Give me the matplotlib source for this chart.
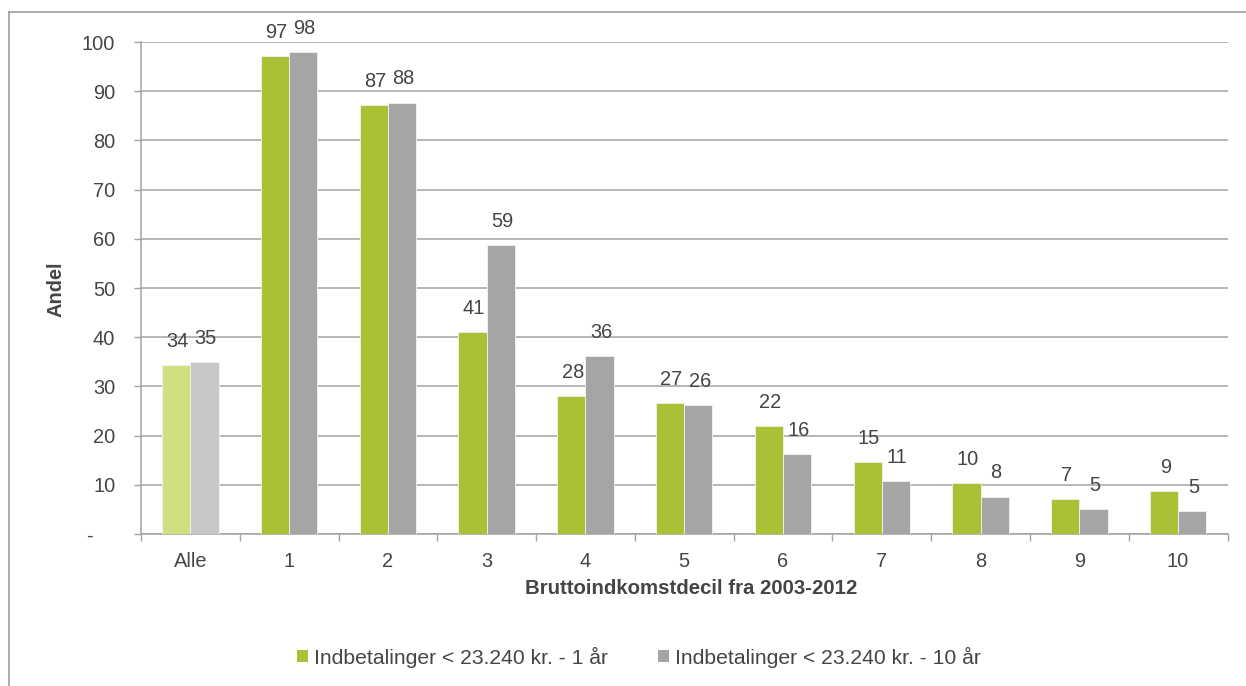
import matplotlib
matplotlib.use("Agg")
import matplotlib.pyplot as plt
from matplotlib.patches import Patch
from matplotlib.lines import Line2D
import numpy as np

plt.rcParams['font.family'] = ['Liberation Sans', 'DejaVu Sans']

categories = ["Alle", "1", "2", "3", "4", "5", "6", "7", "8", "9", "10"]
series_1yr = [34.4, 97.2, 87.2, 41.1, 28.1, 26.6, 22.0, 14.6, 10.3, 7.1, 8.7]
series_10yr = [35.0, 98.0, 87.7, 58.8, 36.2, 26.2, 16.3, 10.7, 7.6, 5.1, 4.6]
series_names = ["Indbetalinger < 23.240 kr. - 1 år", "Indbetalinger < 23.240 kr. - 10 år"]
yticks = [0, 10, 20, 30, 40, 50, 60, 70, 80, 90, 100]
ytick_labels = ["-    ", "10", "20", "30", "40", "50", "60", "70", "80", "90", "100"]
xlabel = "Bruttoindkomstdecil fra 2003-2012"
ylabel = "Andel"

green = "#ABC034"
gray = "#A5A5A5"
green_light = "#D0DF80"
gray_light = "#C8C8C8"
text_col = "#454545"
grid_col = "#A3A3A3"
FS = 14.4

W, H = 1246, 686
fig = plt.figure(figsize=(W / 100, H / 100), dpi=100)
fig.patch.set_facecolor("white")

ax = fig.add_axes([141 / W, 1 - 534 / H, (1227.5 - 141) / W, (534 - 42) / H])

x = np.arange(len(categories))
w = 0.286
c1 = [green_light] + [green] * (len(categories) - 1)
c2 = [gray_light] + [gray] * (len(categories) - 1)
b1 = ax.bar(x - w / 2, series_1yr, w, color=c1, edgecolor="#F2F2F2", linewidth=0.6, zorder=3)
b2 = ax.bar(x + w / 2, series_10yr, w, color=c2, edgecolor="#F2F2F2", linewidth=0.6, zorder=3)

for bars, vals in ((b1, series_1yr), (b2, series_10yr)):
    for rect, v in zip(bars, vals):
        ax.annotate(f"{v:.0f}", (rect.get_x() + rect.get_width() / 2, rect.get_height()),
                    xytext=(1, 17), textcoords="offset points", ha="center", va="center",
                    fontsize=FS, color=text_col, annotation_clip=False)

ax.set_xlim(-0.5, len(categories) - 0.5)
ax.set_ylim(0, 100)
ax.set_yticks(yticks)
ax.set_yticklabels(ytick_labels)
ax.set_xticks(x)
ax.set_xticklabels(categories)
ax.set_xticks(np.arange(-0.5, len(categories), 1.0), minor=True)
ax.tick_params(axis="x", which="major", length=0, pad=13, labelsize=FS, labelcolor=text_col)
ax.tick_params(axis="x", which="minor", length=5, width=1.0, color=grid_col, direction="out")
ax.tick_params(axis="y", length=5, width=1.0, color=grid_col, pad=13.5, labelsize=FS, labelcolor=text_col)

ax.grid(axis="y", color=grid_col, linewidth=1.1, zorder=0)
ax.set_axisbelow(True)
for s in ("top", "right"):
    ax.spines[s].set_visible(False)
for s in ("left", "bottom"):
    ax.spines[s].set_color(grid_col)
    ax.spines[s].set_linewidth(1.1)

fig.text(691 / W, 1 - 588 / H, xlabel, ha="center", va="center", fontsize=FS + 0.3,
         fontweight="bold", color=text_col)
fig.text(55.5 / W, 1 - 289 / H, ylabel, ha="center", va="center", fontsize=FS,
         fontweight="bold", color=text_col, rotation=90)

handles = [Patch(facecolor=green, edgecolor="none"), Patch(facecolor=gray, edgecolor="none")]
fig.legend(handles, series_names, loc="center", bbox_to_anchor=(639 / W, 1 - 657 / H),
           ncol=2, frameon=False, fontsize=15.2, handlelength=0.52, handleheight=0.52,
           handletextpad=0.25, columnspacing=2.4, labelcolor=text_col, borderpad=0.2)

# outer chart frame
frame_col = "#A0A0A0"
fig.add_artist(Line2D([8.5 / W, 1.0], [1 - 12 / H, 1 - 12 / H], color=frame_col, linewidth=1.2,
                      transform=fig.transFigure))
fig.add_artist(Line2D([8.5 / W, 8.5 / W], [1 - 12 / H, 0.0], color=frame_col, linewidth=1.2,
                      transform=fig.transFigure))

fig.savefig("out.png", dpi=100)
